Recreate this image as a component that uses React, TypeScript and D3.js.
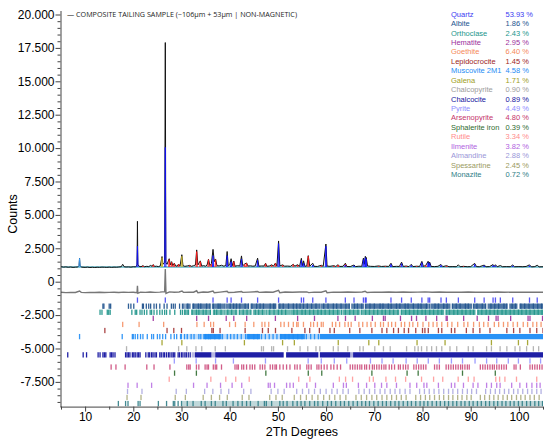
import React, { useEffect, useRef } from "react";
import * as d3 from "d3";

// ---- legend / phases ----
const phaseNames = [
  "Quartz", "Albite", "Orthoclase", "Hematite", "Goethite", "Lepidocrocite",
  "Muscovite 2M1", "Galena", "Chalcopyrite", "Chalcocite", "Pyrite", "Arsenopyrite",
  "Sphalerite iron", "Rutile", "Ilmenite", "Almandine", "Spessartine", "Monazite",
];
const phasePercents = [
  53.93, 1.86, 2.43, 2.95, 6.4, 1.45, 4.58, 1.71, 0.9, 0.89, 4.49, 4.8, 0.39, 3.34, 3.82, 2.88, 2.45, 0.72,
];
const phaseColors = [
  "#3b3bf2", "#23558f", "#23968c", "#9c2f9c", "#f5895a", "#9b2424",
  "#1e8cf5", "#9e9e24", "#9c9c9c", "#1313a0", "#8c8cff", "#c5336a",
  "#2f6b2f", "#ff8c8c", "#b062e0", "#9a97d8", "#9a9a62", "#2f7d86",
];
const tickOpacity = [0.85, 0.95, 0.95, 0.9, 0.85, 0.85, 0.9, 0.9, 0.75, 0.95, 0.85, 0.8, 0.9, 0.8, 0.8, 0.75, 0.75, 0.9];

// ---- reflection positions (2Th) ----
const quartzTicks = [20.86, 26.64, 36.54, 39.47, 40.29, 42.45, 45.79, 50.14, 54.87, 55.33, 57.23, 59.96, 63.99, 65.79, 67.74, 68.14, 68.31, 73.46, 75.66, 77.67, 79.87, 81.17, 81.49, 83.84, 84.95, 87.44, 90.83, 92.79, 94.64, 95.13, 96.15, 98.72, 102.2, 103.8];
const albiteTicks = [13.7, 13.9, 15.0, 15.3, 19.0, 19.5, 20.1, 21.9, 22.1, 22.7, 23.2, 23.6, 24.3, 24.8, 25.5, 26.4, 27.0, 27.9, 28.3, 28.7, 29.6, 30.2, 30.5, 31.3, 32.5, 33.5, 34.0, 35.2, 35.9, 36.6, 37.6, 38.0, 39.0, 40.1, 40.8, 41.4, 42.1, 43.2, 43.9, 44.6, 45.6, 46.3, 47.0, 48.4, 49.1, 49.4, 50.4, 51.1, 52.2, 53.2, 53.9, 54.6, 55.3, 56.1, 57.0, 57.9, 58.7, 59.5, 60.4, 61.5, 62.2, 63.1, 64.1, 64.8, 65.9, 66.5, 67.4, 68.2, 69.1, 70.0, 71.2, 71.8, 72.9, 73.5, 74.6, 75.3, 76.4, 77.0, 78.1, 79.1, 79.7, 80.8, 81.5, 82.6, 83.3, 84.4, 85.1, 86.2, 87.0, 87.8, 88.9, 89.5, 90.6, 91.3, 92.4, 93.1, 94.2, 95.0, 95.8, 96.9, 97.5, 98.6, 99.3, 100.4, 101.2, 102.1, 103.0, 103.9, 104.7];
const albiteBands: [number, number, number][] = [[30.8, 31.9, 0.75], [32.2, 36.0, 0.75], [36.3, 38.9, 0.75], [39.2, 44.0, 0.75], [44.3, 49.7, 0.75], [50.0, 58.6, 0.75], [58.9, 64.9, 0.75], [65.2, 67.9, 0.75], [68.2, 81.3, 0.8], [81.7, 85.8, 0.8], [86.2, 90.3, 0.8], [90.7, 93.1, 0.8], [93.5, 97.6, 0.8], [98.0, 99.7, 0.8], [100.1, 105, 0.8]];
const orthoclaseTicks = [13.1, 13.5, 14.6, 14.9, 15.2, 19.7, 20.4, 20.7, 21.4, 21.8, 22.3, 22.8, 23.5, 23.8, 24.3, 24.9, 25.5, 26.0, 26.5, 26.9, 27.6, 28.6, 29.8, 30.2, 30.7, 31.4, 32.2, 33.1, 33.6, 34.5, 35.1, 36.0, 36.8, 37.3, 38.2, 39.0, 39.6, 40.4, 41.3, 42.0, 42.8, 43.6, 44.4, 45.3, 46.0, 46.8, 47.7, 48.3, 49.2, 50.1, 50.8, 51.6, 52.5, 53.3, 54.0, 55.0, 55.7, 56.6, 57.4, 58.3, 59.0, 59.8, 60.7, 61.5, 62.4, 63.2, 64.0, 64.9, 65.7, 66.6, 67.3, 68.2, 69.0, 69.9, 70.7, 71.6, 72.3, 73.2, 74.0, 74.9, 75.6, 76.5, 77.3, 78.2, 79.0, 79.9, 80.6, 81.5, 82.3, 83.2, 84.0, 84.9, 85.6, 86.5, 87.3, 88.2, 89.0, 89.9, 90.6, 91.5, 92.3, 93.2, 94.0, 94.9, 95.6, 96.5, 97.3, 98.2, 99.0, 99.9, 100.6, 101.5, 102.3, 103.2, 104.0, 104.8];
const orthoclaseBands: [number, number, number][] = [[30.5, 31.6, 0.65], [32.0, 36.1, 0.65], [36.5, 38.8, 0.65], [39.2, 41.6, 0.65], [42.0, 44.4, 0.65], [44.8, 47.5, 0.65], [47.9, 52.3, 0.65], [52.7, 63.0, 0.7], [63.4, 67.0, 0.7], [67.4, 75.2, 0.7], [75.6, 84.5, 0.75], [84.9, 91.0, 0.75], [91.4, 105, 0.75]];
const hematiteTicks = [24.14, 33.15, 35.61, 39.28, 40.85, 43.52, 49.48, 54.09, 57.59, 62.45, 64.02, 66.03, 69.6, 71.9, 72.26, 75.43, 77.73, 78.76, 80.71, 82.94, 84.91, 85.13, 88.54, 91.35, 93.7, 95.27, 95.67, 98.29, 101.9, 102.3, 104.9];
const goethiteTicks = [17.8, 21.2, 26.3, 33.2, 34.7, 36.05, 36.65, 39.98, 41.19, 43.2, 45.0, 46.7, 47.3, 48.1, 50.6, 51.3, 52.2, 53.2, 53.9, 54.2, 55.3, 56.8, 57.4, 58.2, 59.0, 59.4, 61.3, 62.0, 62.8, 63.9, 64.6, 65.2, 66.8, 67.6, 68.5, 69.3, 70.2, 71.3, 71.9, 72.9, 73.6, 74.4, 75.6, 76.3, 77.3, 78.0, 79.0, 80.1, 81.3, 82.2, 83.0, 84.0, 85.2, 86.1, 87.3, 88.6, 89.4, 90.6, 91.8, 92.7, 93.6, 94.9, 95.8, 96.8, 97.7, 98.8, 99.7, 100.9, 101.8, 102.9, 103.7, 104.6];
const lepidocrociteTicks = [14.1, 27.0, 28.4, 30.0, 36.3, 36.6, 38.0, 43.2, 46.8, 48.0, 49.5, 52.9, 55.6, 56.6, 58.6, 60.8, 61.7, 64.9, 67.0, 69.5, 71.6, 72.6, 74.0, 75.0, 76.2, 77.1, 78.6, 80.0, 80.5, 81.2, 83.3, 84.0, 86.0, 86.7, 89.1, 90.5, 91.9, 94.0, 97.5, 98.9, 100.2, 102.3, 103.7, 105.0];
const muscoviteTicks = [8.85, 17.7, 19.8, 20.0, 20.4, 20.9, 21.5, 22.0, 22.9, 23.8, 24.2, 25.0, 25.5, 26.1, 26.7, 27.8, 28.5, 29.0, 29.8, 30.0, 30.6, 31.2, 32.0, 32.6, 33.6, 34.0, 35.0, 35.6, 36.0, 36.9, 37.8, 38.5, 39.5, 40.2, 40.9, 41.6, 42.4, 43.3, 44.0, 45.0, 45.8, 46.6, 47.4, 48.2, 49.0, 49.8, 50.6, 51.5, 52.3, 53.2, 54.1, 55.0, 55.9, 56.8, 57.6, 58.4];
const muscoviteBands: [number, number, number][] = [[30.5, 34.5, 0.3], [34.5, 38.3, 0.95], [38.3, 43.5, 0.3], [43.5, 46.3, 0.95], [46.3, 50.4, 0.3], [50.4, 55.6, 0.95], [55.6, 58.7, 0.35], [58.7, 105, 0.95]];
const galenaTicks = [25.96, 30.07, 43.05, 50.97, 53.41, 62.52, 68.86, 70.93, 78.87, 84.68, 94.3, 99.9, 101.8];
const chalcopyriteTicks = [18.6, 29.4, 31.1, 33.0, 34.2, 37.0, 39.1, 46.6, 47.0, 48.7, 49.1, 52.0, 54.6, 56.2, 57.9, 58.7, 61.5, 62.5, 64.5, 67.0, 67.7, 70.1, 71.9, 73.3, 76.7, 78.4, 79.1, 79.8, 80.9, 81.9, 82.9, 84.0, 85.7, 87.1, 89.5, 90.5, 93.3, 94.3, 96.1, 97.5, 99.2, 100.2, 101.6, 103.0, 104.1];
const chalcociteTicks = [6.4, 9.6, 10.3, 12.7, 13.1, 13.7, 14.0, 14.3, 15.2, 15.5, 15.8, 16.2, 18.4, 18.7, 19.0, 19.3, 19.8, 20.1, 20.4, 20.8, 21.1, 21.4, 22.6, 23.1, 23.4, 23.8, 24.1, 24.5, 24.8, 25.5, 25.8, 26.2, 26.5, 26.9, 27.3, 27.6, 28.0, 28.3, 28.6, 29.3, 29.6, 30.0, 30.3, 30.7, 31.0, 31.4, 31.8];
const chalcociteBands: [number, number, number][] = [[32.1, 32.8, 0.3], [32.8, 36.2, 0.95], [36.2, 37.0, 0.3], [37.0, 51.2, 0.95], [51.7, 58.4, 0.95], [58.7, 65.0, 0.95], [65.0, 65.6, 0.35], [65.6, 105, 0.95]];
const pyriteTicks = [28.51, 33.04, 37.07, 40.77, 47.42, 56.28, 59.0, 61.7, 64.28, 69.2, 71.6, 73.9, 76.6, 78.9, 81.2, 83.5, 86.0, 88.3, 90.9, 93.3, 95.4, 97.8, 99.9, 102.3, 104.5];
const arsenopyriteTicks = [15.4, 16.4, 18.3, 22.8, 24.3, 27.6, 31.1, 31.5, 31.8, 33.1, 33.6, 34.9, 35.3, 35.6, 36.6, 37.0, 37.3, 38.3, 41.1, 41.5, 41.8, 42.5, 42.9, 43.5, 44.2, 44.7, 45.2, 46.3, 46.8, 47.3, 48.4, 48.9, 49.4, 49.7, 50.4, 51.1, 51.8, 52.5, 53.5, 54.0, 54.6, 56.0, 56.4, 56.9, 58.1, 58.5, 59.0, 59.6, 60.2, 61.0, 61.6, 62.3, 63.0, 65.0, 65.5, 66.0, 66.5, 67.0, 67.4, 68.0, 68.4, 69.0, 69.6, 70.0, 70.5, 71.0, 71.5, 72.0, 72.4, 73.1, 73.6, 74.2, 75.0, 75.4, 76.0, 76.5, 77.0, 78.2, 78.7, 79.2, 79.7, 80.2, 80.7, 82.5, 83.0, 83.5, 84.9, 85.4, 85.9, 86.4, 86.9, 87.4, 87.9, 88.3, 88.8, 89.3, 89.7, 92.0, 92.5, 93.0, 93.5, 94.0, 94.5, 94.9, 95.4, 95.9, 96.4, 96.9, 97.4, 99.0, 99.4, 100.3, 102.3, 102.8, 103.3, 103.8, 104.3, 104.8];
const sphaleriteTicks = [28.56, 33.09, 47.5, 56.3, 59.1, 69.5, 76.8, 79.1, 88.3, 95.1];
const rutileTicks = [27.45, 36.09, 39.19, 41.25, 44.05, 54.32, 56.64, 62.75, 64.04, 65.49, 69.0, 69.79, 72.41, 74.4, 76.5, 79.8, 82.3, 84.2, 87.4, 89.5, 90.7, 95.2, 96.0, 97.1, 99.5, 103.7];
const ilmeniteTicks = [18.9, 20.8, 23.8, 32.5, 35.3, 38.1, 40.5, 42.5, 48.0, 48.4, 49.3, 51.8, 52.5, 53.2, 56.0, 57.8, 61.5, 63.6, 64.2, 66.7, 68.4, 70.1, 71.5, 72.6, 74.6, 77.4, 78.8, 80.3, 80.9, 83.3, 86.0, 86.7, 88.5, 90.5, 91.5, 93.3, 94.3, 95.4, 96.1, 98.5, 100.2, 101.6, 102.7, 103.7, 104.4];
const almandineTicks = [18.8, 21.8, 28.9, 31.0, 34.8, 36.5, 38.2, 39.8, 42.9, 44.4, 48.6, 50.0, 51.3, 53.9, 55.1, 56.4, 57.6, 58.8, 60.0, 61.2, 62.3, 63.5, 64.6, 66.8, 67.9, 69.0, 70.1, 71.2, 72.2, 73.3, 74.3, 75.3, 76.4, 77.4, 79.4, 80.4, 81.4, 82.4, 83.4, 84.4, 85.4, 86.3, 87.3, 88.3, 89.3, 90.2, 91.2, 93.1, 94.1, 95.1, 96.0, 97.0, 97.9, 98.9, 99.8, 100.8, 101.8, 102.7, 103.7, 104.6];
const spessartineTicks = [18.7, 21.6, 28.7, 30.8, 34.5, 36.2, 37.9, 39.5, 42.6, 44.0, 48.3, 49.6, 50.9, 53.4, 54.7, 55.9, 57.1, 58.3, 59.5, 60.7, 61.8, 62.9, 64.1, 66.2, 67.3, 68.4, 69.5, 70.5, 71.6, 72.6, 73.6, 74.6, 75.6, 76.6, 78.6, 79.6, 80.6, 81.5, 82.5, 83.5, 84.4, 85.4, 86.3, 87.3, 88.2, 89.2, 90.1, 92.0, 92.9, 93.9, 94.8, 95.7, 96.7, 97.6, 98.5, 99.5, 100.4, 101.3, 102.3, 103.2, 104.2];
const monaziteTicks = [16.9, 18.4, 18.9, 21.0, 21.4, 25.2, 26.9, 28.3, 28.6, 29.3, 30.0, 31.2, 32.4, 34.1, 34.9, 36.2, 37.0, 38.6, 39.3, 40.7, 41.7, 42.6, 43.5, 44.3, 45.9, 47.2, 47.6, 48.7, 50.4, 51.1, 51.9, 53.1, 54.0, 54.8, 55.6, 56.6, 57.6, 58.3, 59.3, 60.3, 61.1, 62.0, 63.0, 63.8, 64.7, 65.6, 66.5, 67.4, 68.2, 69.0, 69.9, 70.8, 71.7, 72.5, 73.4, 74.3, 75.1, 76.0, 76.9, 77.7, 78.6, 79.5, 80.3, 81.1, 82.0, 82.9, 83.7, 84.6, 85.4, 86.3, 87.1, 88.0, 88.8, 89.7, 90.5, 91.4, 92.2, 93.1, 93.9, 94.8, 95.6, 96.5, 97.3, 98.2, 99.0, 99.9, 100.7, 101.6, 102.4, 103.3, 104.1, 104.9];
const monaziteBands: [number, number, number][] = [[30.0, 105, 0.3]];

const phaseTicks = [
  quartzTicks, albiteTicks, orthoclaseTicks, hematiteTicks, goethiteTicks, lepidocrociteTicks,
  muscoviteTicks, galenaTicks, chalcopyriteTicks, chalcociteTicks, pyriteTicks, arsenopyriteTicks,
  sphaleriteTicks, rutileTicks, ilmeniteTicks, almandineTicks, spessartineTicks, monaziteTicks,
];
const phaseBands: [number, number, number][][] = [
  [], albiteBands, orthoclaseBands, [], [], [], muscoviteBands, [], [], chalcociteBands,
  [], [], [], [], [], [], [], monaziteBands,
];

// ---- measured pattern [2Th, counts] ----
const observedPattern: [number, number][] = [
  [5, 1130], [5.5, 1090], [6, 1110], [6.5, 1080], [7, 1100], [7.5, 1070], [8, 1090], [8.5, 1100], [8.75, 1200], [8.85, 1760], [8.95, 1180], [9.3, 1090],
  [10, 1070], [10.5, 1090], [11, 1060], [11.5, 1080], [12, 1060], [12.5, 1080], [13, 1070], [13.5, 1090], [14, 1080], [14.5, 1070], [15, 1090],
  [15.5, 1070], [16, 1090], [16.5, 1080], [17, 1100], [17.5, 1120], [17.8, 1300], [18.1, 1120], [18.5, 1100], [19, 1110], [19.5, 1090], [20, 1120],
  [20.5, 1110], [20.78, 1250], [20.86, 4520], [20.94, 1300], [21.2, 1150], [21.6, 1120], [22.0, 1200], [22.3, 1120], [22.8, 1150], [23.2, 1130],
  [23.6, 1220], [23.9, 1150], [24.15, 1280], [24.4, 1140], [24.8, 1160], [25.2, 1130], [25.6, 1180], [25.96, 1880], [26.15, 1300], [26.5, 1450],
  [26.64, 17900], [26.75, 1450], [27.0, 1300], [27.45, 1720], [27.7, 1250], [27.95, 1500], [28.2, 1200], [28.5, 1380], [28.8, 1180], [29.1, 1160],
  [29.4, 1320], [29.7, 1170], [30.07, 2020], [30.3, 1200], [30.7, 1150], [31.2, 1180], [31.7, 1220], [32.1, 1150], [32.5, 1200], [32.9, 1250],
  [33.15, 2380], [33.4, 1250], [33.9, 1560], [34.2, 1170], [34.6, 1200], [35.0, 1160], [35.3, 1240], [35.6, 1680], [35.9, 1200], [36.2, 1350],
  [36.54, 2420], [36.8, 1500], [37.07, 1700], [37.35, 1200], [37.8, 1180], [38.3, 1230], [38.8, 1160], [39.2, 1220], [39.47, 2260], [39.7, 1200],
  [40.0, 1250], [40.29, 1720], [40.55, 1200], [40.85, 1550], [41.1, 1160], [41.6, 1200], [42.1, 1180], [42.45, 1930], [42.7, 1190], [43.1, 1320],
  [43.5, 1400], [43.8, 1170], [44.3, 1190], [44.8, 1160], [45.3, 1180], [45.79, 1760], [46.05, 1160], [46.6, 1180], [47.1, 1170], [47.45, 1380],
  [47.7, 1160], [48.2, 1170], [48.7, 1260], [49.1, 1170], [49.5, 1400], [49.8, 1170], [50.14, 3050], [50.4, 1180], [51.0, 1260], [51.4, 1160],
  [52.0, 1170], [52.6, 1150], [53.2, 1300], [53.5, 1160], [54.1, 1270], [54.5, 1150], [54.87, 1750], [55.1, 1200], [55.33, 1560], [55.6, 1150],
  [56.0, 1180], [56.3, 1950], [56.6, 1160], [57.23, 1380], [57.5, 1150], [58.2, 1140], [59.0, 1230], [59.4, 1150], [59.96, 2820], [60.2, 1170],
  [60.8, 1150], [61.6, 1200], [62.0, 1140], [62.5, 1270], [62.8, 1140], [63.5, 1150], [64.0, 1380], [64.3, 1140], [65.0, 1130], [65.8, 1250],
  [66.1, 1130], [66.8, 1160], [67.4, 1150], [67.74, 1760], [67.95, 1300], [68.14, 1900], [68.23, 1550], [68.31, 1820], [68.6, 1180], [69.2, 1150],
  [70.0, 1140], [70.9, 1180], [71.5, 1140], [72.3, 1160], [73.0, 1140], [73.46, 1380], [73.8, 1130], [74.6, 1150], [75.2, 1140], [75.66, 1460],
  [76.0, 1140], [76.6, 1170], [77.2, 1130], [77.67, 1300], [78.0, 1130], [78.8, 1160], [79.4, 1140], [79.87, 1520], [80.2, 1140], [80.7, 1230],
  [81.17, 1530], [81.32, 1280], [81.49, 1460], [81.8, 1140], [82.5, 1130], [83.2, 1150], [83.84, 1290], [84.2, 1130], [85.0, 1200], [85.5, 1120],
  [86.3, 1130], [87.0, 1120], [87.44, 1260], [87.8, 1120], [88.5, 1150], [89.3, 1120], [90.0, 1130], [90.83, 1370], [91.2, 1130], [91.8, 1120],
  [92.79, 1240], [93.2, 1120], [93.9, 1130], [94.64, 1280], [94.9, 1150], [95.13, 1270], [95.5, 1120], [96.15, 1210], [96.6, 1120], [97.4, 1130],
  [98.2, 1120], [98.72, 1250], [99.1, 1120], [100.0, 1130], [100.8, 1120], [101.5, 1140], [102.2, 1260], [102.6, 1110], [103.3, 1130],
  [103.8, 1230], [104.2, 1110], [105, 1120],
];

// difference curve, shifted below zero
const diffPattern: [number, number][] = [
  [5, -790], [6, -820], [7, -800], [8, -810], [8.85, -700], [9.2, -800], [10, -820], [11, -800], [12, -810], [13, -790], [14, -810], [15, -800],
  [16, -790], [17, -810], [18, -780], [19, -800], [20, -790], [20.78, -820], [20.86, -300], [20.95, -860], [21.5, -780], [22.5, -800], [23.5, -770],
  [24.5, -800], [25.5, -780], [26.5, -750], [26.64, 950], [26.78, -880], [27.5, -760], [28.5, -790], [29.5, -770], [30.1, -700], [30.4, -800],
  [31.5, -780], [32.5, -790], [33.15, -680], [33.4, -830], [34.5, -770], [35.5, -790], [36.54, -700], [36.8, -820], [38, -780], [39.47, -720],
  [39.7, -810], [41, -790], [42.45, -740], [42.7, -800], [44, -780], [45.8, -740], [46.1, -800], [47.5, -770], [49, -790], [50.14, -650],
  [50.4, -830], [51.5, -770], [53, -790], [54.5, -770], [56, -760], [56.4, -820], [57.5, -780], [59, -790], [59.96, -680], [60.2, -820],
  [61.5, -780], [63, -790], [64.5, -770], [66, -790], [67.5, -770], [68.1, -720], [68.5, -810], [70, -780], [71.5, -790], [73, -770],
  [74.5, -790], [76, -770], [77.5, -790], [79, -780], [80.5, -760], [82, -790], [83.5, -770], [85, -790], [86.5, -780], [88, -790],
  [89.5, -770], [91, -790], [92.5, -780], [94, -790], [95.5, -770], [97, -790], [98.5, -780], [100, -790], [101.5, -780], [103, -790],
  [104.5, -780], [105, -790],
];

// calculated phase peaks [2Th, counts]
const quartzPeaks: [number, number][] = [[20.86, 2650], [26.64, 10050], [36.54, 1950], [39.47, 1950], [40.29, 1500], [42.45, 1700], [45.79, 1600], [50.14, 2850], [54.87, 1600], [55.33, 1400], [57.23, 1250], [59.96, 2650], [63.99, 1250], [65.79, 1200], [67.74, 1650], [68.14, 1800], [68.31, 1700], [73.46, 1300], [75.66, 1350], [77.67, 1220], [79.87, 1420], [81.17, 1430], [81.49, 1380], [83.84, 1230], [90.83, 1300], [92.79, 1200], [94.64, 1220], [95.13, 1200], [98.72, 1190], [102.2, 1200]];
const calcPeaks: [number, number][] = [[22.0, 1180], [24.15, 1260], [27.45, 1650], [27.95, 1450], [28.5, 1350], [29.4, 1300], [31.7, 1200], [33.15, 2250], [33.9, 1500], [35.6, 1650], [36.2, 1300], [37.07, 1650], [40.85, 1500], [43.1, 1300], [43.5, 1380], [47.45, 1350], [48.7, 1230], [49.5, 1380], [51.0, 1230], [53.2, 1280], [54.1, 1250], [56.3, 1900], [59.0, 1200], [61.6, 1180], [62.5, 1250], [64.0, 1300], [70.9, 1160], [72.3, 1150], [75.4, 1150], [76.6, 1160], [78.8, 1150], [80.7, 1220], [85.0, 1180], [88.5, 1140]];
const muscovitePeaks: [number, number][] = [[8.85, 1740]];
const galenaPeaks: [number, number][] = [[25.96, 1800], [30.07, 1900]];
const BACKGROUND = 1100;

const yMajor = [-7500, -5000, -2500, 0, 2500, 5000, 7500, 10000, 12500, 15000, 17500, 20000];
const xMajor = [10, 20, 30, 40, 50, 60, 70, 80, 90, 100];
const TITLE = "\u2014 COMPOSITE TAILING SAMPLE (\u2212106\u00b5m + 53\u00b5m | NON-MAGNETIC)";

const W = 550;
const H = 442;

const fmt = (v: number) => (v === 0 ? "0" : (v < 0 ? "-" : "") + (Math.abs(v) / 1000).toFixed(3));

const App: React.FC = () => {
  const svgRef = useRef<SVGSVGElement | null>(null);

  useEffect(() => {
    const svg = d3.select(svgRef.current).attr("width", W).attr("height", H);
    svg.selectAll("*").remove();

    const x = d3.scaleLinear().domain([5, 105]).range([61, 543]);
    const y = d3.scaleLinear().domain([-9350, 20300]).range([406.6, 10.5]);
    const rows = d3.scaleBand<string>().domain(phaseNames).range([y(-1150), y(-9350)]);

    svg.append("defs").append("clipPath").attr("id", "plot")
      .append("rect").attr("x", 61).attr("y", 0).attr("width", 482).attr("height", 407);

    const plot = svg.append("g").attr("clip-path", "url(#plot)");

    // background line
    plot.append("line")
      .attr("x1", x(5)).attr("x2", x(105))
      .attr("y1", y(BACKGROUND)).attr("y2", y(BACKGROUND))
      .attr("stroke", "#5cb6c6").attr("stroke-width", 1.3);

    const line = d3.line<[number, number]>().x((d) => x(d[0])).y((d) => y(d[1]));

    // observed
    plot.append("path").datum(observedPattern).attr("d", line)
      .attr("fill", "none").attr("stroke", "#111").attr("stroke-width", 1);

    // phase spikes
    const spikes = (peaks: [number, number][], color: string, w: number) => {
      const p = d3.path();
      peaks.forEach(([c, v]) => {
        p.moveTo(x(c - w), y(BACKGROUND));
        p.lineTo(x(c), y(v));
        p.lineTo(x(c + w), y(BACKGROUND));
      });
      plot.append("path").attr("d", p.toString())
        .attr("fill", "none").attr("stroke", color).attr("stroke-width", 0.9);
    };
    spikes(calcPeaks, "#ff1a1a", 0.12);
    spikes(quartzPeaks, "#1010ff", 0.12);
    spikes(muscovitePeaks, "#3aa0ff", 0.15);
    spikes(galenaPeaks, "#c8b42a", 0.12);

    // difference
    plot.append("path").datum(diffPattern).attr("d", line)
      .attr("fill", "none").attr("stroke", "#777").attr("stroke-width", 1.4);

    // stick rows
    phaseNames.forEach((name, i) => {
      const g = plot.append("g");
      const y0 = (rows(name) as number) + 0.4;
      const h = rows.bandwidth() - 0.8;
      g.selectAll("rect.band").data(phaseBands[i]).enter().append("rect")
        .attr("x", (d) => x(d[0])).attr("width", (d) => x(d[1]) - x(d[0]))
        .attr("y", y0).attr("height", h)
        .attr("fill", phaseColors[i]).attr("opacity", (d) => d[2]);
      g.selectAll("rect.tick").data(phaseTicks[i]).enter().append("rect")
        .attr("x", (d) => x(d) - 0.65).attr("width", 1.3)
        .attr("y", y0).attr("height", h)
        .attr("fill", phaseColors[i]).attr("opacity", tickOpacity[i]);
    });

    const axisFont = "'Liberation Sans', Arial, sans-serif";

    // y axis
    const yMinor = d3.range(-9000, 20001, 500).filter((v) => !yMajor.includes(v));
    svg.append("g").attr("transform", "translate(60.5,0)")
      .call(d3.axisLeft(y).tickValues(yMinor).tickSize(3).tickSizeOuter(0).tickFormat(() => ""))
      .call((g) => g.select(".domain").remove())
      .selectAll("line").attr("stroke", "#444");
    const yAxis = svg.append("g").attr("transform", "translate(60.5,0)")
      .call(d3.axisLeft(y).tickValues(yMajor).tickSize(5).tickSizeOuter(0).tickPadding(1).tickFormat((d) => fmt(d as number)));
    yAxis.selectAll("path,line").attr("stroke", "#444");
    yAxis.selectAll("text").style("font-size", "12px").style("font-family", axisFont).attr("fill", "#000");

    // x axis
    svg.append("g").attr("transform", "translate(0,406.6)")
      .call(d3.axisBottom(x).tickValues(d3.range(5, 106, 10)).tickSize(3).tickSizeOuter(0).tickFormat(() => ""))
      .call((g) => g.select(".domain").remove())
      .selectAll("line").attr("stroke", "#444");
    const xAxis = svg.append("g").attr("transform", "translate(0,406.6)")
      .call(d3.axisBottom(x).tickValues(xMajor).tickSize(5).tickSizeOuter(0).tickPadding(1));
    xAxis.select(".domain").attr("d", `M${x(5) - 0.5},0.5H${x(105)}`);
    xAxis.selectAll("path,line").attr("stroke", "#444");
    xAxis.selectAll("text").style("font-size", "12px").style("font-family", axisFont).attr("fill", "#000");

    // axis labels
    svg.append("text").attr("x", 302).attr("y", 436).attr("text-anchor", "middle")
      .style("font-size", "12.5px").style("font-family", axisFont).text("2Th Degrees");
    svg.append("text").attr("transform", "translate(17,214) rotate(-90)").attr("text-anchor", "middle")
      .style("font-size", "12.5px").style("font-family", axisFont).text("Counts");

    // title
    svg.append("text").attr("x", 67).attr("y", 17.4)
      .attr("textLength", 230).attr("lengthAdjust", "spacingAndGlyphs")
      .style("font-size", "7px").style("font-family", "'Open Sans', sans-serif").attr("fill", "#222")
      .text(TITLE);

    // legend
    const legend = svg.append("g").style("font-family", axisFont).style("font-size", "7.5px");
    phaseNames.forEach((name, i) => {
      const ly = 14 + i * 9.43 + 2.7;
      legend.append("text").attr("x", 451).attr("y", ly).attr("fill", phaseColors[i]).text(name);
      legend.append("text").attr("x", 505.5).attr("y", ly).attr("fill", phaseColors[i])
        .text(`${phasePercents[i].toFixed(2)} %`);
    });
  }, []);

  return <svg ref={svgRef} style={{ position: "absolute", left: 0, top: 0, background: "#fff" }} />;
};

export default App;
